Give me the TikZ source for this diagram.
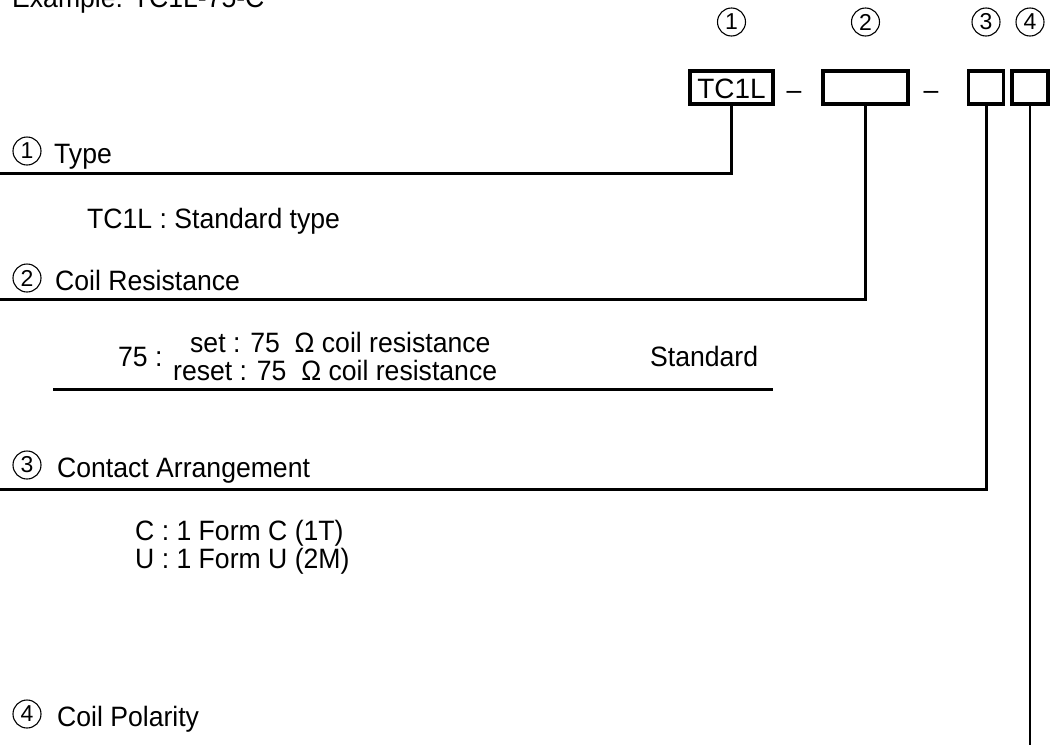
\documentclass[tikz,border=0pt]{standalone}
\usepackage{fontspec}
\setmainfont{Liberation Sans}
\usetikzlibrary{positioning}

\begin{document}
\begin{tikzpicture}[x=1pt, y=-1pt,
		txt/.style={font=\fontsize{28}{32}\selectfont, xscale=0.95, transform shape, inner sep=0pt, anchor=base west},
		num/.style={circle, draw, line width=1.1pt, minimum size=28pt, inner sep=0pt, font=\fontsize{23}{26}\selectfont},
		slot/.style={draw, line width=3.6pt, minimum height=33pt, inner sep=0pt},
		lead/.style={line width=3pt}]
		\useasboundingbox (0,0) rectangle (1052,745);

		\node[txt] (ex) at (12,7) {Example: TC1L-75-C};

		% part number
		\node[slot, minimum width=83pt] (b1) at (731.5,87.5) {};
		\node[txt, anchor=base, xscale=1.05] (tc) at (b1.center |- 0,98) {TC1L};
		\node[slot, minimum width=85pt] (b2) at (865.5,87.5) {};
		\node[slot, minimum width=35pt] (b3) at (986,87.5) {};
		\node[slot, minimum width=36pt] (b4) at (1030,87.5) {};
		\node[txt, anchor=base] (d1) at (794,99) {--};
		\node[txt, anchor=base] (d2) at (931,99) {--};

		\node[num] (h1) at (731.5,22) {1};
		\node[num] (h2) at (865.5,22) {2};
		\node[num] (h3) at (986,22) {3};
		\node[num] (h4) at (1030,22) {4};

		% sections
		\node[num] (n1) at (27,151) {1};
		\node[txt] (type) at (54,163) {Type};
		\node[txt] (std) at (87,228) {TC1L : Standard type};

		\node[num] (n2) at (27,278) {2};
		\node[txt] (coil) at (55,290) {Coil Resistance};
		\node[txt] (r75) at (118,366) {75 :};
		\node[txt] (set) at (190,352) {set : 75~~Ω coil resistance};
		\node[txt] (reset) at (173,380) {reset : 75~~Ω coil resistance};
		\node[txt] (stdr) at (650,366) {Standard};

		\node[num] (n3) at (27,465) {3};
		\node[txt] (cont) at (57,477) {Contact Arrangement};
		\node[txt] (fc) at (135,540) {C : 1 Form C (1T)};
		\node[txt, below=28pt of fc.base west, anchor=base west] (fu) {U : 1 Form U (2M)};

		\node[num] (n4) at (27,714) {4};
		\node[txt] (pol) at (57,726) {Coil Polarity};

		% leaders
		\coordinate (e1) at (0,173);
		\coordinate (e2) at (0,299);
		\coordinate (e3) at (0,489);
		\coordinate (e4) at (0,745);
		\coordinate (u1) at (53,389);
		\coordinate (u2) at (773,389);

		\draw[lead] (b1.south) |- (e1);
		\draw[lead] (b2.south) |- (e2);
		\draw[lead] (b3.south) |- (e3);
		\draw[line width=1.6pt] (b4.south) -- (b4.south |- e4);
		\draw[lead] (u1) -- (u2);
	\end{tikzpicture}
\end{document}
